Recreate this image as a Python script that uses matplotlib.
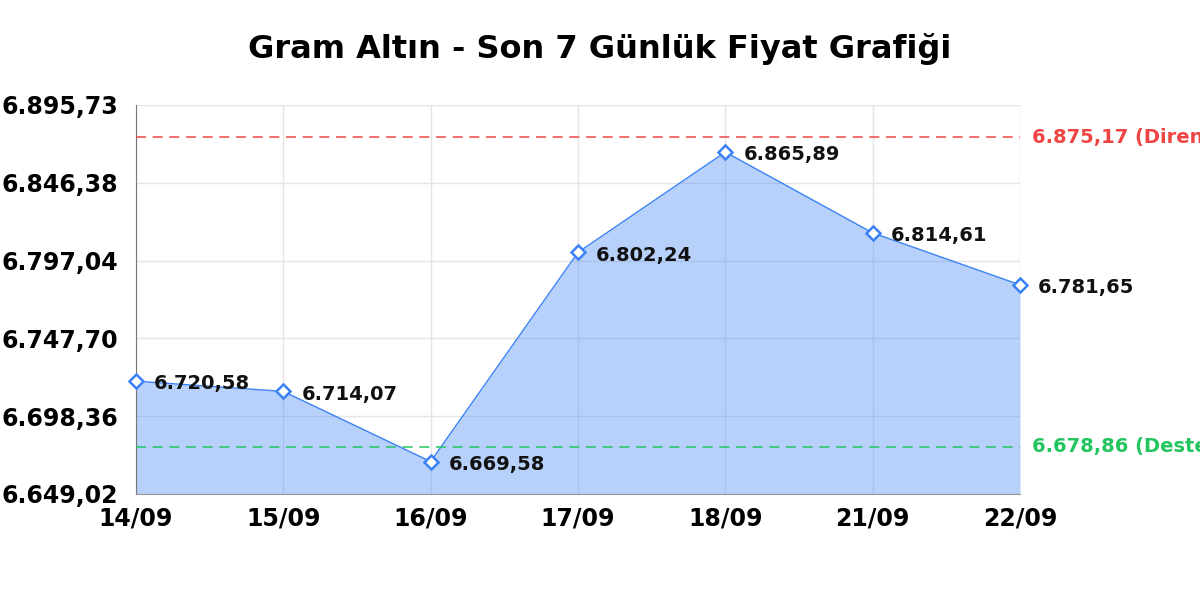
import numpy as np
import matplotlib.pyplot as plt

plt.rcParams["font.family"] = ["DejaVu Sans"]
plt.rcParams["font.weight"] = "bold"

# Veriler
tarihler = ["14/09", "15/09", "16/09", "17/09", "18/09", "21/09", "22/09"]
fiyatlar = [6720.58, 6714.07, 6669.58, 6802.24, 6865.89, 6814.61, 6781.65]
etiketler = ["6.720,58", "6.714,07", "6.669,58", "6.802,24", "6.865,89", "6.814,61", "6.781,65"]
direnc = 6875.17
destek = 6678.86
y_ticks = [6649.02, 6698.36, 6747.70, 6797.04, 6846.38, 6895.73]
y_tick_labels = ["6.649,02", "6.698,36", "6.747,70", "6.797,04", "6.846,38", "6.895,73"]

mavi = "#3b82f6"

fig = plt.figure(figsize=(12, 6), dpi=100)
ax = fig.add_axes([0.1133, 0.1767, 0.7367, 0.6483])

x = np.arange(len(tarihler))
ax.fill_between(x, fiyatlar, y_ticks[0], color=mavi, alpha=0.36, linewidth=0, zorder=2)
ax.plot(x, fiyatlar, color=mavi, linewidth=1, zorder=3)
ax.plot(x, fiyatlar, linestyle="none", marker="D", markersize=7,
        markerfacecolor="white", markeredgecolor=mavi, markeredgewidth=1.8, zorder=5, clip_on=False)

for xi, yi, et in zip(x, fiyatlar, etiketler):
    ax.annotate(et, (xi, yi), xytext=(13, -2), textcoords="offset points",
                fontsize=14, va="center", ha="left", color="#111111", zorder=6)

# Direnc / destek
ax.axhline(direnc, color="#ef4444", linestyle=(0, (6, 4)), linewidth=1.2, alpha=0.9, zorder=4)
ax.axhline(destek, color="#22c55e", linestyle=(0, (6, 4)), linewidth=1.2, alpha=0.9, zorder=4)
ax.text(1.014, direnc, "6.875,17 (Direnç)", transform=ax.get_yaxis_transform(),
        color="#ef4444", fontsize=14, va="center", ha="left", clip_on=False)
ax.text(1.014, destek, "6.678,86 (Destek)", transform=ax.get_yaxis_transform(),
        color="#22c55e", fontsize=14, va="center", ha="left", clip_on=False)

ax.set_xlim(0, len(tarihler) - 1)
ax.set_ylim(y_ticks[0], y_ticks[-1])
ax.set_xticks(x)
ax.set_xticklabels(tarihler, fontsize=17)
ax.set_yticks(y_ticks)
ax.set_yticklabels(y_tick_labels, fontsize=17)
ax.tick_params(axis="both", length=0)
ax.tick_params(axis="y", pad=13)
ax.tick_params(axis="x", pad=9)

ax.grid(True, color="#e5e5e5", linewidth=1, zorder=1)
ax.set_axisbelow(True)
for s in ["top", "right"]:
    ax.spines[s].set_visible(False)
ax.spines["left"].set_color("#777777")
ax.spines["bottom"].set_color("#999999")

fig.text(0.5, 0.903, "Gram Altın - Son 7 Günlük Fiyat Grafiği", fontsize=23,
         ha="center", va="baseline")

fig.savefig("out.png", dpi=100)
